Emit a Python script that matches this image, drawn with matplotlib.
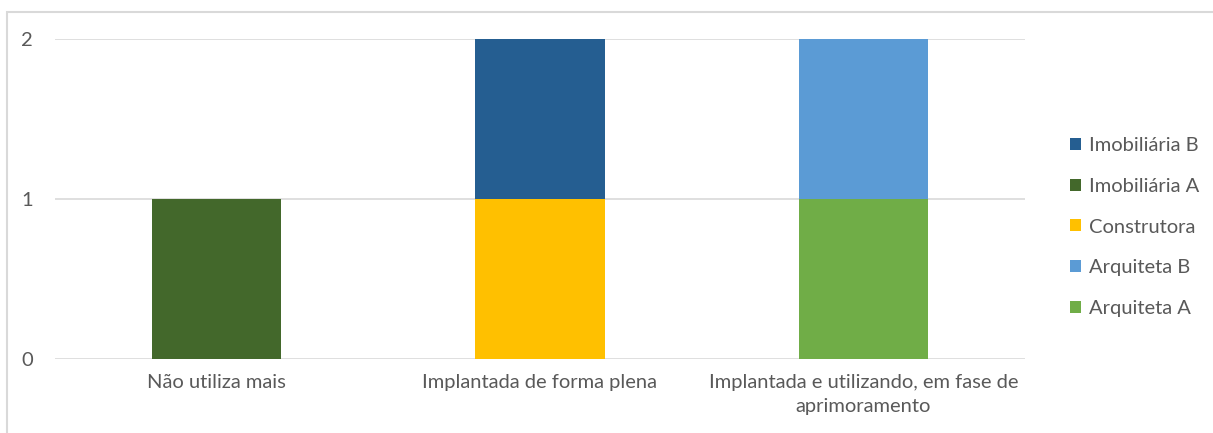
import matplotlib.pyplot as plt
import numpy as np
from matplotlib.patches import Rectangle

categories = ["Não utiliza mais", "Implantada de forma plena",
              "Implantada e utilizando, em fase de\naprimoramento"]
series_names = ["Arquiteta A", "Arquiteta B", "Construtora", "Imobiliária A", "Imobiliária B"]
arquiteta_a = [0, 0, 1]
arquiteta_b = [0, 0, 1]
construtora = [0, 1, 0]
imobiliaria_a = [1, 0, 0]
imobiliaria_b = [0, 1, 0]
colors = ["#70AD47", "#5B9BD5", "#FFC000", "#43682B", "#255E91"]

plt.rcParams['font.family'] = ['Lato', 'DejaVu Sans']
text_color = "#595959"
fs = 14.5

fig = plt.figure(figsize=(12.13, 4.33), dpi=100)
ax = fig.add_axes([55 / 1213, 1 - 359 / 433, 970 / 1213, 320 / 433])

x = np.arange(len(categories))
bottom = np.zeros(len(categories))
handles = []
for name, vals, c in zip(series_names,
                         [arquiteta_a, arquiteta_b, construtora, imobiliaria_a, imobiliaria_b],
                         colors):
    h = ax.bar(x, vals, 0.4, bottom=bottom, color=c, label=name, zorder=3)
    handles.append(h)
    bottom += np.array(vals)

ax.set_xlim(-0.5, 2.5)
ax.set_ylim(0, 2)
ax.set_yticks([0, 1, 2])
ax.set_xticks(x)
ax.set_xticklabels(categories, fontsize=fs, color=text_color, linespacing=1.45)
ax.tick_params(axis='y', labelsize=fs, labelcolor=text_color, length=0, pad=16)
ax.tick_params(axis='x', length=0, pad=11)
ax.grid(axis='y', color="#D9D9D9", linewidth=1.2, zorder=0)
for s in ax.spines.values():
    s.set_visible(False)

leg = fig.legend(handles[::-1], series_names[::-1], loc='center left',
                 bbox_to_anchor=(1052 / 1213, 1 - 227 / 433), frameon=False,
                 fontsize=fs, labelcolor=text_color, handlelength=0.55,
                 handleheight=0.55, handletextpad=0.4, labelspacing=1.18)

fig.patches.append(Rectangle((7 / 1213, -0.1), 1.2, 1 - 12 / 433 + 0.1,
                             transform=fig.transFigure, fill=False,
                             edgecolor="#D9D9D9", linewidth=1.5))

fig.savefig("out.png", dpi=100)
